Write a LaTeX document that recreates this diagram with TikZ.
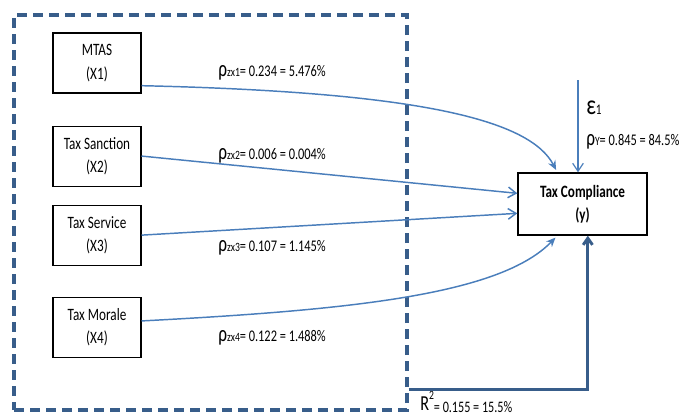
\documentclass[tikz,border=0pt]{standalone}
\usepackage{fontspec}
\setmainfont[FakeStretch=0.76]{Carlito}
\usetikzlibrary{arrows.meta, positioning, calc}
\definecolor{pathblue}{RGB}{74, 126, 187}
\definecolor{darkblue}{RGB}{56, 93, 138}
\newcommand\boxfont{\fontsize{13}{17.5}\selectfont}
\newcommand\labfont{\fontsize{12.2}{14}\selectfont}
\newcommand\rhoglyph{{\fontsize{17}{17}\selectfont ρ}}
\newcommand\subtxt[1]{{\fontsize{9.5}{10}\selectfont #1}}

\begin{document}
\begin{tikzpicture}[
    x=0.75pt, y=-0.75pt,
    varbox/.style={
        draw, line width=0.8pt, minimum width=66pt, minimum height=45pt,
        align=center, font=\boxfont, inner sep=2pt
    },
    depbox/.style={
        draw, line width=1pt, minimum width=96.75pt, minimum height=46.5pt,
        align=center, font=\boxfont\bfseries, inner sep=2pt
    },
    groupbox/.style={
        draw=darkblue, line width=2.6pt, dash pattern=on 7.5pt off 4.5pt,
        minimum width=294.75pt, minimum height=296.25pt, inner sep=0pt
    },
    coef/.style={anchor=west, inner sep=0pt, font=\labfont},
    path/.style={pathblue, line width=1.1pt},
    open/.style={-{Straight Barb[length=6pt, width=8pt]}},
    curved/.style={-{Stealth[length=7pt, width=6pt]}, shorten >=2pt},
    rsq/.style={darkblue, line width=2.2pt, -{Straight Barb[length=5pt, width=7pt]}}
]
\useasboundingbox (0,0) rectangle (679,418);

% exogenous block
\node[groupbox] (grp) at (210.5,212.5) {};

% independent variables
\node[varbox] (mtas) at (97,63) {MTAS\\(X1)};
\node[varbox, below=24pt of mtas] (sanc) {Tax Sanction\\(X2)};
\node[varbox, below=13.5pt of sanc] (serv) {Tax Service\\(X3)};
\node[varbox, below=23.25pt of serv] (moral) {Tax Morale\\(X4)};

% dependent variable
\node[depbox] (comp) at (582.5,204) {Tax Compliance\\(y)};

% path coefficients
\node[coef] (r1) at (218,73) {\rhoglyph\subtxt{zx1}= 0.234 = 5.476\%};
\node[coef] (r2) at (218,156) {\rhoglyph\subtxt{zx2}= 0.006 = 0.004\%};
\node[coef] (r3) at (218,248) {\rhoglyph\subtxt{zx3}= 0.107 = 1.145\%};
\node[coef] (r4) at (218,338) {\rhoglyph\subtxt{zx4}= 0.122 = 1.488\%};

% residual
\coordinate (eps) at (578,80);
\node[coef, font=\fontsize{21}{21}\selectfont] (epslab) at (586,108) {ε\subtxt{\fontsize{11}{11}\selectfont 1}};
\node[coef] (ry) at (586,142) {\rhoglyph\subtxt{Y}= 0.845 = 84.5\%};

% R square
\coordinate (rsqstart) at ([yshift=16.5pt]grp.south east);
\node[coef] (rsqlab) at (420,402) {{\fontsize{16}{16}\selectfont R}\raisebox{8pt}{\subtxt{2}}\raisebox{-2pt}{\fontsize{12}{12}\selectfont = 0.155 = 15.5\%}};

% arrows
\draw[path, curved] (mtas.-27) .. controls (420,92) and (530,120) .. ([xshift=30pt]comp.north west);
\draw[path, open] (sanc.east) -- ([yshift=8pt]comp.west);
\draw[path, open] (serv.east) -- ([yshift=-7pt]comp.west);
\draw[path, curved] (moral.8) .. controls (350,310) and (500,295) .. ([xshift=30pt]comp.south west);
\draw[path, open, line width=0.9pt] (eps) -- (eps |- comp.north);
\draw[rsq] (rsqstart) -| ([xshift=4pt]comp.south);

\end{tikzpicture}
\end{document}
